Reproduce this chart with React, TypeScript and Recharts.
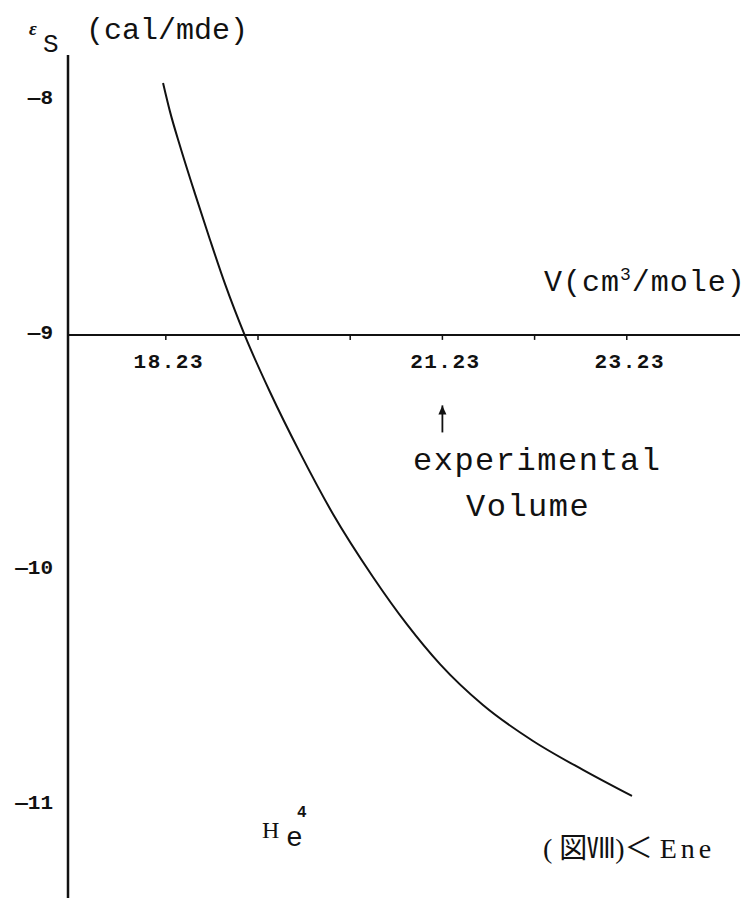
// He4 energy vs volume curve (scanned figure redraw)
import React from 'react'
import { LineChart, Line, XAxis, YAxis, ReferenceLine, ReferenceDot } from 'recharts'

const volumes = [18.2, 18.276, 18.384, 18.547, 18.71, 18.872, 19.089, 19.36, 19.686, 20.043, 20.477, 20.846, 21.204, 21.67, 22.213, 22.755, 23.286]
const energies = [-7.928, -8.051, -8.196, -8.4, -8.596, -8.783, -9.004, -9.243, -9.502, -9.762, -10.03, -10.232, -10.401, -10.575, -10.728, -10.851, -10.962]

const xTicks = [18.23, 19.23, 20.23, 21.23, 22.23, 23.23]
const xTickLabels = ['18.23', '', '', '21.23', '', '23.23']
const yTicks = [-8, -9, -10, -11]
const expVolume = 21.23

const data = volumes.map((v, i) => ({ v, e: energies[i] }))

const mono = '"Liberation Mono", "DejaVu Sans Mono", monospace'
const serif = '"Liberation Serif", "DejaVu Serif", serif'
const cjk = '"Noto Sans CJK JP", "Noto Sans CJK SC", sans-serif'

const YTick = (props: any) => {
  const { y, payload } = props
  return (
    <text x={53} y={y} dy={4} textAnchor="end" fontFamily={mono} fontWeight="bold" fontSize={21} fill="#111">
      {'—' + Math.abs(payload.value)}
    </text>
  )
}

const XTickMark = (label: string) => (props: any) => {
  const { cx, cy } = props
  return (
    <g>
      <line x1={cx} y1={cy} x2={cx} y2={cy + 5} stroke="#111" strokeWidth={1.5} />
      {label && (
        <text x={cx + 3} y={cy + 33} textAnchor="middle" fontFamily={mono} fontWeight="bold" fontSize={21} letterSpacing={1.5} fill="#111">
          {label}
        </text>
      )}
    </g>
  )
}

const ArrowHead = (props: any) => {
  const { cx, cy } = props
  return <path d={`M${cx - 4},${cy + 9} L${cx},${cy} L${cx + 4},${cy + 9} Z`} fill="#111" />
}

const txt = (extra: React.CSSProperties): React.CSSProperties => ({
  position: 'absolute', lineHeight: 1, whiteSpace: 'nowrap', color: '#111', ...extra
})

export default function App() {
  return (
    <div style={{ position: 'absolute', left: 0, top: 0, width: 747, height: 898, overflow: 'hidden', background: '#fff' }}>
      <LineChart width={747} height={898} data={data} margin={{ top: 55, right: 7, bottom: 0, left: 0 }}>
        <XAxis dataKey="v" type="number" domain={[17.169, 24.458]} hide />
        <YAxis
          type="number"
          width={68}
          domain={[-11.396, -7.809]}
          ticks={yTicks}
          tickLine={false}
          axisLine={{ stroke: '#111', strokeWidth: 2.5 }}
          tick={<YTick />}
        />
        <ReferenceLine y={-9} stroke="#111" strokeWidth={2} />
        {xTicks.map((t, i) => (
          <ReferenceDot key={t} x={t} y={-9} r={0} shape={XTickMark(xTickLabels[i])} />
        ))}
        <ReferenceLine segment={[{ x: expVolume, y: -9.3 }, { x: expVolume, y: -9.415 }]} stroke="#111" strokeWidth={1.8} />
        <ReferenceDot x={expVolume} y={-9.3} r={0} shape={<ArrowHead />} />
        <Line type="monotone" dataKey="e" stroke="#111" strokeWidth={2} dot={false} isAnimationActive={false} />
      </LineChart>

      <div style={txt({ left: 29, top: 19, fontFamily: serif, fontStyle: 'italic', fontWeight: 'bold', fontSize: 19 })}>ε</div>
      <div style={txt({ left: 43, top: 32, fontFamily: mono, fontSize: 26 })}>S</div>
      <div style={txt({ left: 86, top: 16, fontFamily: mono, fontSize: 30 })}>(cal/mde)</div>

      <div style={txt({ left: 544, top: 266, fontFamily: mono, fontSize: 30, letterSpacing: 1 })}>
        V(cm<sup style={{ fontSize: 18 }}>3</sup>/mole)
      </div>

      <div style={txt({ left: 413, top: 446, fontFamily: mono, fontSize: 32, letterSpacing: 1.5 })}>experimental</div>
      <div style={txt({ left: 466, top: 492, fontFamily: mono, fontSize: 32, letterSpacing: 1.5 })}>Volume</div>

      <div style={txt({ left: 262, top: 818, fontFamily: serif, fontSize: 24 })}>H</div>
      <div style={txt({ left: 286, top: 825, fontFamily: mono, fontSize: 28 })}>e</div>
      <div style={txt({ left: 297, top: 805, fontFamily: mono, fontWeight: 'bold', fontSize: 16 })}>4</div>

      <div style={txt({ left: 543, top: 832, fontFamily: serif, fontSize: 28 })}>
        ( <span style={{ fontFamily: cjk }}>図Ⅷ</span>)<span style={{ fontFamily: cjk }}>＜</span> <span style={{ letterSpacing: 4 }}>Ene</span>
      </div>
    </div>
  )
}
